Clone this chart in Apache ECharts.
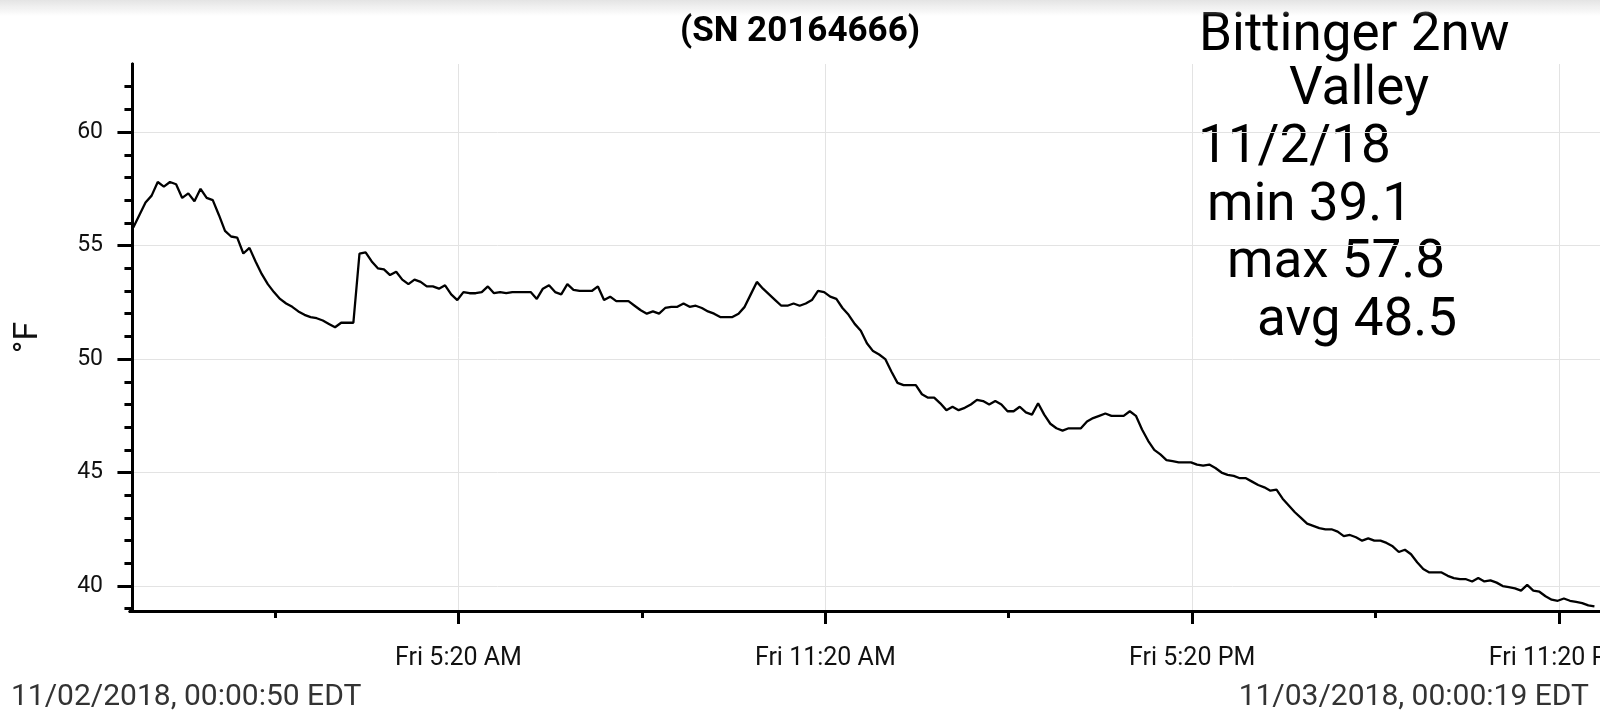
<!DOCTYPE html>
<html>
<head>
<meta charset="utf-8">
<title>Bittinger 2nw Valley</title>
<script src="https://cdn.jsdelivr.net/npm/echarts@6/dist/echarts.min.js"></script>
<style>
  html, body { margin: 0; padding: 0; background: #fff; }
  #chart { width: 1600px; height: 726px; }
  .shade {
    position: absolute; left: 0; top: 0; width: 1600px; height: 16px;
    background: linear-gradient(#e4e4e4, rgba(255, 255, 255, 0));
    pointer-events: none;
  }
</style>
</head>
<body>
<div id="chart"></div>
<div class="shade"></div>
<script>
  // logger readings, 11/02/2018, one every 6 minutes starting 00:00:50 EDT
  const startHour = 50 / 3600
  const stepHours = 0.1
  const temps = [
    55.8, 56.35, 56.9, 57.2, 57.8, 57.6, 57.8, 57.7, 57.1, 57.3,
    56.95, 57.5, 57.1, 57.0, 56.35, 55.65, 55.4, 55.35, 54.65, 54.9,
    54.3, 53.75, 53.3, 52.95, 52.65, 52.45, 52.3, 52.1, 51.95, 51.85,
    51.8, 51.7, 51.55, 51.4, 51.6, 51.6, 51.6, 54.65, 54.7, 54.3,
    54.0, 53.95, 53.7, 53.85, 53.5, 53.3, 53.5, 53.4, 53.2, 53.2,
    53.1, 53.25, 52.85, 52.6, 52.95, 52.9, 52.9, 52.95, 53.2, 52.9,
    52.95, 52.9, 52.95, 52.95, 52.95, 52.95, 52.65, 53.1, 53.25, 52.95,
    52.85, 53.3, 53.05, 53.0, 53.0, 53.0, 53.2, 52.6, 52.75, 52.55,
    52.55, 52.55, 52.35, 52.15, 52.0, 52.1, 52.0, 52.25, 52.3, 52.3,
    52.45, 52.3, 52.35, 52.25, 52.1, 52.0, 51.85, 51.85, 51.85, 52.0,
    52.3, 52.85, 53.4, 53.1, 52.85, 52.6, 52.35, 52.35, 52.45, 52.35,
    52.45, 52.6, 53.0, 52.95, 52.75, 52.65, 52.25, 51.95, 51.55, 51.25,
    50.7, 50.35, 50.2, 50.0, 49.45, 48.95, 48.85, 48.85, 48.85, 48.45,
    48.3, 48.3, 48.05, 47.75, 47.9, 47.75, 47.85, 48.0, 48.2, 48.15,
    48.0, 48.15, 48.0, 47.7, 47.7, 47.9, 47.65, 47.55, 48.05, 47.55,
    47.15, 46.95, 46.85, 46.95, 46.95, 46.95, 47.25, 47.4, 47.5, 47.6,
    47.5, 47.5, 47.5, 47.7, 47.5, 46.9, 46.4, 46.0, 45.8, 45.55,
    45.5, 45.45, 45.45, 45.45, 45.35, 45.3, 45.35, 45.2, 45.0, 44.9,
    44.85, 44.75, 44.75, 44.6, 44.45, 44.35, 44.2, 44.25, 43.85, 43.55,
    43.25, 43.0, 42.75, 42.65, 42.55, 42.5, 42.5, 42.4, 42.2, 42.25,
    42.15, 42.0, 42.1, 42.0, 42.0, 41.9, 41.75, 41.5, 41.6, 41.4,
    41.05, 40.75, 40.6, 40.6, 40.6, 40.45, 40.35, 40.3, 40.3, 40.2,
    40.35, 40.2, 40.25, 40.15, 40.0, 39.95, 39.9, 39.8, 40.05, 39.8,
    39.75, 39.55, 39.4, 39.35, 39.45, 39.35, 39.3, 39.25, 39.15, 39.1
  ]

  // x ticks, in hours since midnight
  const majorTickHours = [5 + 20 / 60, 11 + 20 / 60, 17 + 20 / 60, 23 + 20 / 60]
  const majorTickLabels = ['Fri 5:20 AM', 'Fri 11:20 AM', 'Fri 5:20 PM', 'Fri 11:20 PM']
  const minorTickHours = [2 + 20 / 60, 8 + 20 / 60, 14 + 20 / 60, 20 + 20 / 60]

  // y ticks
  const yMajorTicks = [40, 45, 50, 55, 60]
  const yMinorTicks = [39, 41, 42, 43, 44, 46, 47, 48, 49, 51, 52, 53, 54, 56, 57, 58, 59, 61, 62]

  const noteLines = ['Bittinger 2nw', 'Valley', '11/2/18', 'min 39.1', 'max 57.8', 'avg 48.5']
  const startStamp = '11/02/2018, 00:00:50 EDT'
  const endStamp = '11/03/2018, 00:00:19 EDT'

  const font = 'Roboto, "Noto Sans", sans-serif'
  const xRange = { min: -0.04, max: 24.005 }
  const yRange = { min: 38.9, max: 63 }
  const black = { color: '#000', width: 3 }
  const grid = { color: '#e3e3e3', width: 1 }

  const chart = echarts.init(document.getElementById('chart'))

  const noteLayout = [[1199, 36.5], [1289, 90.5], [1198, 148.5], [1207, 207], [1227, 263.5], [1257, 322]]
  const graphic = noteLines.map((text, i) => ({
    type: 'text',
    x: noteLayout[i][0],
    y: noteLayout[i][1],
    style: { text: text, fontSize: 53, fontFamily: font, fill: '#000', align: 'left', verticalAlign: 'middle' }
  }))
  graphic.push({
    type: 'text', x: 11, y: 697,
    style: { text: startStamp, fontSize: 30, fontFamily: font, fill: '#333', align: 'left', verticalAlign: 'middle' }
  })
  graphic.push({
    type: 'text', x: 1589, y: 697,
    style: { text: endStamp, fontSize: 30, fontFamily: font, fill: '#333', align: 'right', verticalAlign: 'middle' }
  })

  const option = {
    animation: false,
    textStyle: { fontFamily: font },
    title: {
      text: '(SN 20164666)',
      left: 'center',
      top: 15,
      padding: 0,
      textStyle: { fontSize: 35, fontWeight: 'bold', color: '#000', fontFamily: font }
    },
    grid: { left: 130, right: 0, top: 64, bottom: 115, outerBoundsMode: 'none', containLabel: false },
    xAxis: [
      {
        type: 'value',
        position: 'bottom',
        min: xRange.min,
        max: xRange.max,
        axisLine: { lineStyle: black },
        axisTick: { customValues: majorTickHours, length: 13, lineStyle: black },
        axisLabel: {
          customValues: majorTickHours,
          margin: 35,
          fontSize: 25,
          color: '#111',
          formatter: v => {
            const i = majorTickHours.findIndex(h => Math.abs(h - v) < 1e-6)
            return i < 0 ? '' : majorTickLabels[i]
          }
        },
        splitLine: { show: true, lineStyle: grid }
      },
      {
        type: 'value',
        position: 'bottom',
        min: xRange.min,
        max: xRange.max,
        axisLine: { lineStyle: black },
        axisTick: { customValues: minorTickHours, length: 7, lineStyle: black },
        axisLabel: { show: false },
        splitLine: { show: false }
      }
    ],
    yAxis: [
      {
        type: 'value',
        position: 'left',
        min: yRange.min,
        max: yRange.max,
        name: '°F',
        nameLocation: 'middle',
        nameRotate: 90,
        nameGap: 85,
        nameTextStyle: { fontSize: 34, color: '#111', fontFamily: font },
        axisLine: { show: true, lineStyle: black },
        axisTick: { show: true, customValues: yMajorTicks, length: 15, lineStyle: black },
        axisLabel: { customValues: yMajorTicks, margin: 27, fontSize: 23, color: '#111' },
        splitLine: { show: true, lineStyle: grid }
      },
      {
        type: 'value',
        position: 'left',
        min: yRange.min,
        max: yRange.max,
        axisLine: { show: true, lineStyle: black },
        axisTick: { show: true, customValues: yMinorTicks, length: 8, lineStyle: black },
        axisLabel: { show: false },
        splitLine: { show: false }
      }
    ],
    series: [
      {
        type: 'line',
        xAxisIndex: 0,
        yAxisIndex: 0,
        data: temps.map((t, i) => [startHour + i * stepHours, t]),
        showSymbol: false,
        lineStyle: { color: '#000', width: 2.3 },
        itemStyle: { color: '#000' }
      }
    ],
    graphic: graphic
  }

  chart.setOption(option)
</script>
</body>
</html>
